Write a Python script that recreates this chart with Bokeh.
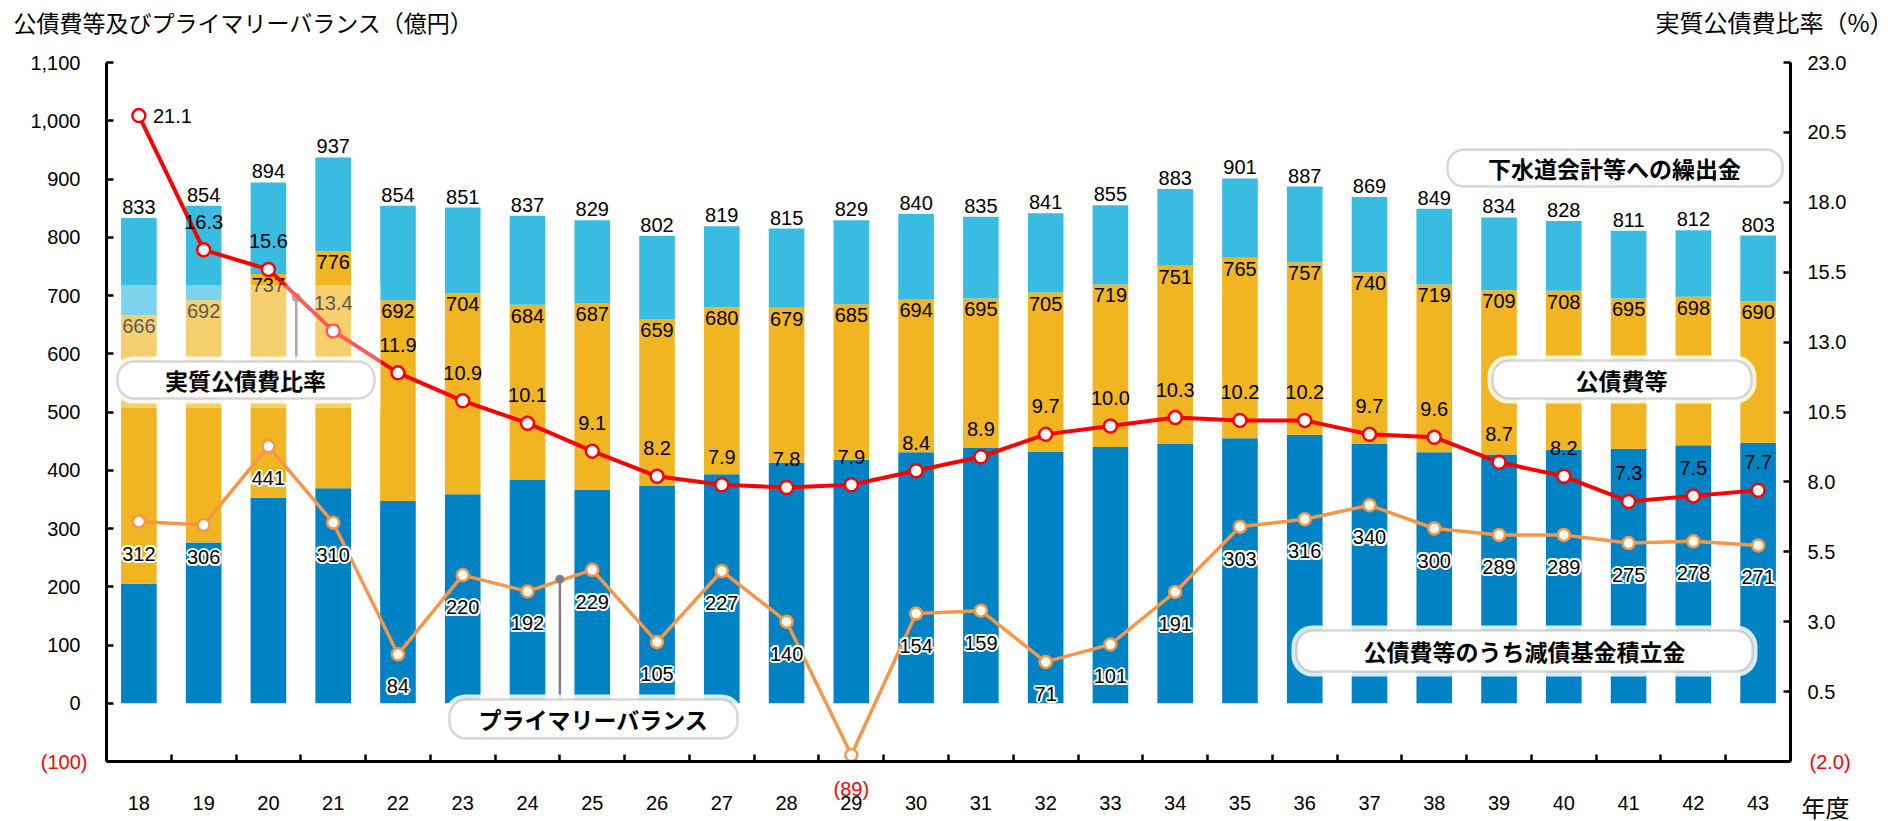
from bokeh.plotting import figure
from bokeh.models import (Range1d, LinearAxis, FixedTicker, NumeralTickFormatter, Label,
                          BoxAnnotation, ColumnDataSource)
from bokeh.embed import file_html
from bokeh.resources import INLINE
from bokeh.core.properties import value

# ---------------- data ----------------
years = ["18", "19", "20", "21", "22", "23", "24", "25", "26", "27", "28", "29", "30",
         "31", "32", "33", "34", "35", "36", "37", "38", "39", "40", "41", "42", "43"]
total = [833, 854, 894, 937, 854, 851, 837, 829, 802, 819, 815, 829, 840,
         835, 841, 855, 883, 901, 887, 869, 849, 834, 828, 811, 812, 803]
kousaihi = [666, 692, 737, 776, 692, 704, 684, 687, 659, 680, 679, 685, 694,
            695, 705, 719, 751, 765, 757, 740, 719, 709, 708, 695, 698, 690]
gensai = [205, 276, 353, 369, 347, 359, 384, 366, 373, 393, 413, 418, 431,
          438, 432, 440, 446, 455, 461, 445, 431, 427, 435, 437, 443, 447]
primary_balance = [312, 306, 441, 310, 84, 220, 192, 229, 105, 227, 140, -89, 154,
                   159, 71, 101, 191, 303, 316, 340, 300, 289, 289, 275, 278, 271]
ratio = [21.1, 16.3, 15.6, 13.4, 11.9, 10.9, 10.1, 9.1, 8.2, 7.9, 7.8, 7.9, 8.4,
         8.9, 9.7, 10.0, 10.3, 10.2, 10.2, 9.7, 9.6, 8.7, 8.2, 7.3, 7.5, 7.7]
left_ticks = list(range(-100, 1101, 100))
right_ticks = [-2.0, 0.5, 3.0, 5.5, 8.0, 10.5, 13.0, 15.5, 18.0, 20.5, 23.0]

BLUE = "#0083C4"
YELLOW = "#F2B522"
LIGHT = "#38BCE2"
ORANGE = "#F79646"
RED = "#FF0000"
GREY = "#7F7F7F"
NUM = "Liberation Sans"
NUM_FONT = value(NUM)
JP = "Noto Sans CJK JP"

# ---------------- layout (pixels of the canvas) ----------------
CW, CH = 1899, 821
PL, PR, PT, PB = 106, 1790, 62, 761          # plot-area edges inside the canvas
X0, X1 = -0.5, 25.5                          # category axis extent
Y0, Y1 = -100, 1100                          # left axis extent
R0, R1 = -2.0, 23.0                          # right axis extent
kx = (PR - PL) / (X1 - X0)
ky = (PB - PT) / (Y1 - Y0)
x_start, x_end = X0 - PL / kx, X1 + (CW - PR) / kx
y_start, y_end = Y0 - (CH - PB) / ky, Y1 + PT / ky
kr = (R1 - R0) / (Y1 - Y0)
r_start, r_end = R0 + (y_start - Y0) * kr, R0 + (y_end - Y0) * kr


def px_x(px):
    return x_start + px / kx


def px_y(py):
    return y_end - py / ky


xs = list(range(len(years)))
src = ColumnDataSource(dict(
    x=xs, total=total, kousaihi=kousaihi, gensai=gensai, pb=primary_balance, ratio=ratio,
    total_t=[str(v) for v in total], kou_t=[str(v) for v in kousaihi],
))
pos = [i for i, v in enumerate(primary_balance) if v >= 0]
pb_src = ColumnDataSource(dict(x=[xs[i] for i in pos], y=[primary_balance[i] for i in pos],
                               t=[str(primary_balance[i]) for i in pos]))

p = figure(width=CW, height=CH, x_range=Range1d(x_start, x_end), y_range=Range1d(y_start, y_end),
           output_backend="svg", toolbar_location=None,
           min_border_left=0, min_border_right=0, min_border_top=0, min_border_bottom=0)
p.extra_y_ranges = {"pct": Range1d(r_start, r_end)}
p.outline_line_color = None
p.xgrid.visible = False
p.ygrid.visible = False
p.background_fill_color = "white"
p.border_fill_color = "white"


def style_axis(ax, standoff):
    ax.axis_line_width = 3
    ax.axis_line_color = "black"
    ax.major_label_standoff = standoff
    ax.major_label_text_font_size = "20px"
    ax.major_label_text_font = NUM
    ax.major_label_text_color = "black"


# x axis (fixed at the bottom of the plot area)
xa = p.xaxis[0]
xa.fixed_location = Y0
xa.bounds = (X0, X1)
xa.ticker = FixedTicker(ticks=xs, minor_ticks=[i + 0.5 for i in xs[:-1]])
xa.major_label_overrides = {i: y for i, y in zip(xs, years)}
xa.major_tick_line_color = None
xa.minor_tick_in = 7
xa.minor_tick_out = 0
xa.minor_tick_line_width = 2.5
xa.minor_tick_line_color = "black"
style_axis(xa, 28)

# left axis
ya = p.yaxis[0]
ya.fixed_location = X0
ya.bounds = (Y0, Y1)
ya.ticker = FixedTicker(ticks=left_ticks)
ya.formatter = NumeralTickFormatter(format="0,0")
ya.major_label_overrides = {-100: ""}
ya.major_tick_in = 7
ya.major_tick_out = 0
ya.major_tick_line_width = 2.5
ya.minor_tick_line_color = None
style_axis(ya, 26)

# right axis
ra = LinearAxis(y_range_name="pct", ticker=FixedTicker(ticks=right_ticks),
                formatter=NumeralTickFormatter(format="0.0"), fixed_location=X1, bounds=(R0, R1))
ra.major_label_overrides = {-2: ""}
ra.major_tick_in = 7
ra.major_tick_out = 0
ra.major_tick_line_width = 2.5
ra.minor_tick_line_color = None
style_axis(ra, 17)
p.add_layout(ra, "right")

# bars
W = 0.55
p.vbar(x="x", bottom=0, top="gensai", width=W, fill_color=BLUE, line_color=None, source=src)
p.vbar(x="x", bottom="gensai", top="kousaihi", width=W, fill_color=YELLOW, line_color=None, source=src)
p.vbar(x="x", bottom="kousaihi", top="total", width=W, fill_color=LIGHT, line_color=None, source=src)

# bar labels
p.text(x="x", y="total", text="total_t", text_align="center", text_baseline="bottom",
       y_offset=-4, text_font=NUM_FONT, text_font_size="20px", text_color="black", source=src)
p.text(x="x", y="kousaihi", text="kou_t", text_align="center", text_baseline="top",
       y_offset=4, text_font=NUM_FONT, text_font_size="20px", text_color="black", source=src)

# primary balance line
p.line(x="x", y="pb", line_color=ORANGE, line_width=3.5, source=src)
p.scatter(x="x", y="pb", size=12, fill_color="white", line_color=ORANGE, line_width=2.5, source=src)

# leader lines and dots of the callouts
p.segment(x0=[2.43, 6.5], y0=[697, 213], x1=[2.43, 6.5], y1=[587, 6], line_color=GREY, line_width=2.5)
p.scatter(x=[2.43, 6.5], y=[697, 213], size=9, fill_color=GREY, line_color=None)

# ratio line
p.line(x="x", y="ratio", y_range_name="pct", line_color=RED, line_width=4, source=src)
p.scatter(x="x", y="ratio", y_range_name="pct", size=13, fill_color="white", line_color=RED,
          line_width=2.5, source=src)

# primary balance labels with white halo
for ox, oy in [(-2, 0), (2, 0), (0, -2), (0, 2), (-1.5, -1.5), (1.5, 1.5), (-1.5, 1.5), (1.5, -1.5)]:
    p.text(x="x", y="y", text="t", text_align="center", text_baseline="middle",
           x_offset=ox, y_offset=32 + oy, text_font=NUM_FONT, text_font_size="20px",
           text_color="white", source=pb_src)
p.text(x="x", y="y", text="t", text_align="center", text_baseline="middle", y_offset=32,
       text_font=NUM_FONT, text_font_size="20px", text_color="black", source=pb_src)
neg = [i for i, v in enumerate(primary_balance) if v < 0]
neg_src = ColumnDataSource(dict(x=[xs[i] for i in neg], y=[primary_balance[i] for i in neg],
                                t=["(%d)" % -primary_balance[i] for i in neg]))
p.text(x="x", y="y", text="t", text_align="center", text_baseline="middle", y_offset=34,
       text_font=NUM_FONT, text_font_size="20px", text_color=RED, source=neg_src)

# ratio labels
first = ColumnDataSource(dict(x=xs[:1], y=ratio[:1], t=["%.1f" % ratio[0]]))
rest = ColumnDataSource(dict(x=xs[1:], y=ratio[1:], t=["%.1f" % v for v in ratio[1:]]))
p.text(x="x", y="y", text="t", y_range_name="pct", text_align="left", text_baseline="middle",
       x_offset=14, text_font=NUM_FONT, text_font_size="20px", text_color="black", source=first)
p.text(x="x", y="y", text="t", y_range_name="pct", text_align="center", text_baseline="middle",
       y_offset=-28, text_font=NUM_FONT, text_font_size="20px", text_color="black", source=rest)

# soft glow around the first callout
p.add_layout(BoxAnnotation(left=-0.34, right=3.74, top=718, bottom=507, fill_color="white",
                           fill_alpha=0.35, line_color=None))

# callouts (pixel boxes: left, right, top, bottom, text centre x)
callouts = [
    ("実質公債費比率", 117, 374, 361, 398, 245),
    ("プライマリーバランス", 449, 737, 699, 738, 593),
    ("下水道会計等への繰出金", 1447, 1782, 149, 186, 1614),
    ("公債費等", 1492, 1751, 360, 398, 1621),
    ("公債費等のうち減債基金積立金", 1296, 1752, 630, 671, 1524),
]
HALO = 5
for txt, l, r, t, b, cx in callouts:
    p.add_layout(BoxAnnotation(left=px_x(l - HALO), right=px_x(r + HALO), top=px_y(t - HALO),
                               bottom=px_y(b + HALO), fill_color="white", fill_alpha=0.85,
                               line_color=None, border_radius=21))
    p.add_layout(BoxAnnotation(left=px_x(l), right=px_x(r), top=px_y(t), bottom=px_y(b),
                               fill_color="white", fill_alpha=1, line_color=GREY, line_width=2.5,
                               border_radius=17))
    p.add_layout(Label(x=px_x(cx), y=px_y((t + b) / 2), text=txt, text_align="center",
                       text_baseline="middle", text_font=JP, text_font_style="bold",
                       text_font_size="23px", text_color="black"))

# titles and extra labels (outside the plot area, inside the canvas)
p.add_layout(Label(x=px_x(13), y=px_y(21), text="公債費等及びプライマリーバランス（億円）", text_align="left",
                   text_baseline="middle", text_font=JP, text_font_size="23px", text_color="black"))
p.add_layout(Label(x=px_x(1893), y=px_y(21), text="実質公債費比率（%）", text_align="right",
                   text_baseline="middle", text_font=JP, text_font_size="24px", text_color="black"))
p.add_layout(Label(x=px_x(1825), y=px_y(806), text="年度", text_align="center", text_baseline="middle",
                   text_font=JP, text_font_size="24px", text_color="black"))
p.add_layout(Label(x=X0, y=Y0, x_offset=-19, text="(100)", text_align="right", text_baseline="middle",
                   text_font=NUM, text_font_size="20px", text_color=RED))
p.add_layout(Label(x=X1, y=Y0, x_offset=19, text="(2.0)", text_align="left", text_baseline="middle",
                   text_font=NUM, text_font_size="20px", text_color=RED))

open("out.html", "w").write(file_html(p, INLINE))
